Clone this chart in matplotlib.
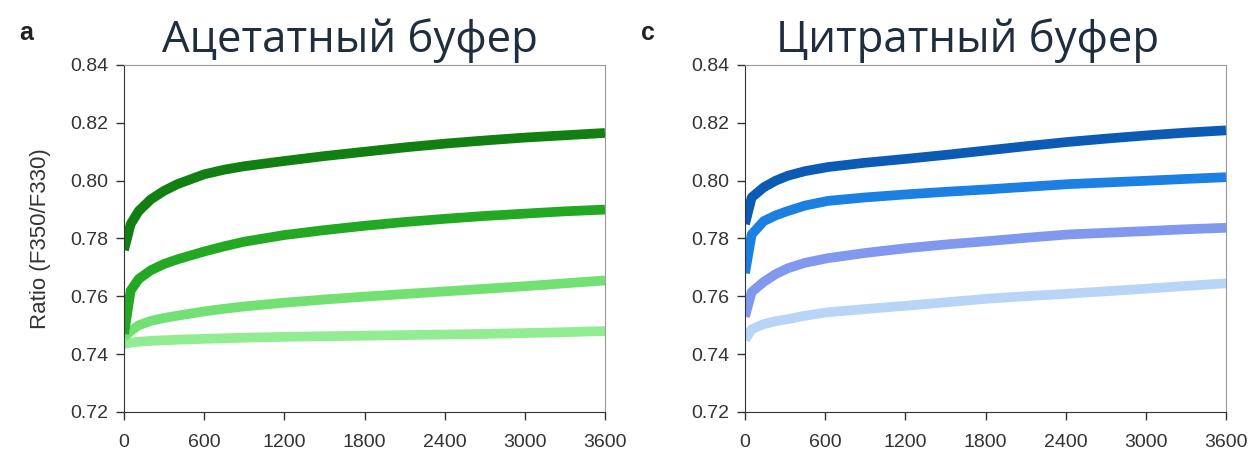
import matplotlib
matplotlib.use("Agg")
import matplotlib.pyplot as plt

# time grid (s) and ratio values
t_acet = [0, 50, 110, 200, 300, 400, 600, 750, 900, 1200, 1500, 1800, 2100, 2400, 2700, 3000, 3300, 3600]
acet_1 = [0.776, 0.785, 0.7895, 0.7935, 0.7965, 0.7988, 0.8022, 0.8038, 0.805, 0.8068, 0.8085, 0.810,
          0.8115, 0.8128, 0.8139, 0.8149, 0.8157, 0.8165]
acet_2 = [0.747, 0.762, 0.766, 0.769, 0.7712, 0.7728, 0.7755, 0.7773, 0.7789, 0.7812, 0.7829, 0.7844,
          0.7857, 0.7868, 0.7878, 0.7886, 0.7894, 0.790]
acet_3 = [0.746, 0.748, 0.750, 0.7515, 0.7525, 0.7533, 0.7548, 0.7557, 0.7565, 0.7578, 0.7589, 0.7599,
          0.7608, 0.7617, 0.7626, 0.7635, 0.7645, 0.7655]
acet_4 = [0.7435, 0.744, 0.7443, 0.7446, 0.7448, 0.745, 0.7453, 0.7455, 0.7457, 0.746, 0.7462, 0.7464,
          0.7466, 0.7468, 0.747, 0.7473, 0.7476, 0.748]

t_citr = [0, 50, 140, 230, 320, 450, 620, 900, 1220, 1520, 1820, 2120, 2420, 2720, 3020, 3300, 3600]
citr_1 = [0.785, 0.7942, 0.7977, 0.800, 0.8017, 0.8033, 0.8047, 0.8062, 0.8076, 0.809, 0.8105, 0.812,
          0.8134, 0.8146, 0.8157, 0.8166, 0.8174]
citr_2 = [0.768, 0.7814, 0.786, 0.788, 0.7895, 0.7914, 0.793, 0.7942, 0.7953, 0.7962, 0.797, 0.7979,
          0.7988, 0.7994, 0.800, 0.8006, 0.8012]
citr_3 = [0.753, 0.7615, 0.765, 0.7677, 0.7697, 0.7716, 0.7732, 0.775, 0.7767, 0.778, 0.7791, 0.7803,
          0.7814, 0.782, 0.7826, 0.7832, 0.7837]
citr_4 = [0.745, 0.7486, 0.7504, 0.7514, 0.7521, 0.7533, 0.7545, 0.7556, 0.7568, 0.758, 0.7592, 0.7601,
          0.7609, 0.7618, 0.7627, 0.7636, 0.7645]

green = ['#127f12', '#22a822', '#72e072', '#92ec92']
blue = ['#0b5bb5', '#1b80e2', '#8099ee', '#b8d5f8']

xticks = [0, 600, 1200, 1800, 2400, 3000, 3600]
yticks = [0.72, 0.74, 0.76, 0.78, 0.80, 0.82, 0.84]

fig = plt.figure(figsize=(12.56, 4.71), dpi=100)
ax1 = fig.add_axes([124/1256, 59/471, 481/1256, 347/471])
ax2 = fig.add_axes([745/1256, 59/471, 481/1256, 347/471])


def panel(ax, t, series, colors):
    # draw lightest first so darker bands sit on top
    for y, c in reversed(list(zip(series, colors))):
        ax.plot(t, y, color=c, lw=7, solid_capstyle='butt', solid_joinstyle='round')
    ax.set_xlim(0, 3600)
    ax.set_ylim(0.72, 0.84)
    ax.set_xticks(xticks)
    ax.set_yticks(yticks)
    ax.set_yticklabels(['%.2f' % v for v in yticks])
    ax.tick_params(direction='out', length=6, width=1, colors='#333333', labelsize=14)
    ax.tick_params(axis='x', pad=10)
    ax.tick_params(axis='y', pad=5)
    for lab in ax.get_xticklabels() + ax.get_yticklabels():
        lab.set_family('Liberation Sans')
    for s in ['left', 'bottom']:
        ax.spines[s].set_color('#333333')
    for s in ['top', 'right']:
        ax.spines[s].set_color('#999999')


panel(ax1, t_acet, [acet_1, acet_2, acet_3, acet_4], green)
panel(ax2, t_citr, [citr_1, citr_2, citr_3, citr_4], blue)

ax1.set_ylabel('Ratio (F350/F330)', fontsize=16, family='Liberation Sans',
               color='#333333', labelpad=14)

fig.text(350/1256, 1 - 52/471, 'Ацетатный буфер', fontsize=31.5, family='Open Sans',
         color='#1f2d3d', ha='center', va='baseline')
fig.text(968/1256, 1 - 52/471, 'Цитратный буфер', fontsize=31.5, family='Open Sans',
         color='#1f2d3d', ha='center', va='baseline')
fig.text(26/1256, 1 - 40/471, 'a', fontsize=18, weight='bold', family='Liberation Sans',
         color='#222222', ha='center', va='baseline')
fig.text(648/1256, 1 - 40/471, 'c', fontsize=18, weight='bold', family='Liberation Sans',
         color='#222222', ha='center', va='baseline')

fig.savefig('out.png', dpi=100)
